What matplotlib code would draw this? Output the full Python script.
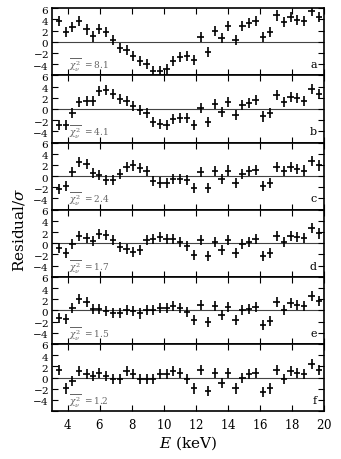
import matplotlib
matplotlib.use('Agg')
import matplotlib.pyplot as plt
import numpy as np

plt.rcParams['font.family'] = 'DejaVu Serif'
plt.rcParams['mathtext.fontset'] = 'dejavuserif'

# energy bins (keV)
energy = [3.46, 3.88, 4.29, 4.71, 5.17, 5.58, 5.96, 6.38, 6.83, 7.25,
          7.67, 8.08, 8.50, 8.92, 9.33, 9.75, 10.17, 10.58, 11.00, 11.46,
          11.88, 12.29, 12.77, 13.19, 13.60, 14.02, 14.48, 14.90, 15.31, 15.73,
          16.20, 16.63, 17.04, 17.50, 17.92, 18.33, 18.75, 19.23, 19.69]

res_a = [3.7, 1.7, 2.6, 3.7, 2.2, 0.95, 2.3, 1.7, 0.3, -1.15,
         -1.45, -2.5, -3.4, -4.0, -5.2, -5.2, -4.9, -3.4, -2.7, -2.6,
         -3.3, 0.8, -1.9, 2.0, 0.65, 2.9, 0.3, 2.8, 3.3, 3.7,
         0.9, 1.7, 4.7, 3.5, 4.5, 3.9, 3.7, 5.5, 4.4]
res_b = [-2.8, -2.8, -0.65, 1.3, 1.4, 1.5, 3.2, 3.35, 2.75, 1.7,
         1.5, 0.5, -0.2, -0.65, -2.4, -2.65, -2.9, -1.8, -1.6, -1.6,
         -2.8, 0.1, -2.4, 0.9, -0.5, 1.3, -1.05, 0.7, 1.1, 1.6,
         -1.35, -0.65, 2.5, 1.3, 2.2, 1.9, 1.5, 3.5, 2.65]
res_c = [-2.3, -1.85, 0.7, 2.6, 2.2, 0.55, 0.15, -0.75, -0.7, 0.3,
         1.7, 1.9, 1.45, 0.85, -0.85, -1.15, -1.25, -0.6, -0.6, -0.75,
         -2.1, 0.7, -2.2, 0.85, -0.6, 1.0, -1.3, 0.3, 0.85, 1.15,
         -1.7, -1.3, 1.7, 0.85, 1.6, 1.25, 1.0, 2.75, 1.9]
res_d = [-0.9, -1.75, -0.2, 1.35, 0.9, 0.45, 1.6, 1.5, 0.6, -0.7,
         -1.0, -1.5, -1.2, 0.6, 0.75, 1.05, 0.75, 0.75, 0.2, -0.5,
         -2.05, 0.6, -2.35, 0.2, -1.2, 0.6, -1.75, -0.2, 0.3, 0.75,
         -2.2, -1.75, 1.35, 0.3, 1.35, 1.05, 0.9, 2.8, 1.75]
res_e = [-1.35, -1.5, 0.5, 2.0, 1.5, 0.2, 0.2, -0.1, -0.4, -0.4,
         0.0, -0.1, -0.55, 0.0, 0.0, 0.35, 0.35, 0.8, 0.5, -0.25,
         -1.75, 1.0, -2.1, 0.8, -0.9, 0.65, -1.75, 0.0, 0.3, 0.65,
         -2.55, -1.95, 1.5, 0.05, 1.25, 1.0, 0.8, 2.6, 1.7]
res_f = [1.35, -1.95, -0.6, 1.2, 0.6, 0.3, 0.9, 0.3, -0.2, -0.2,
         1.2, 0.6, -0.3, -0.3, -0.3, 0.6, 0.6, 1.2, 0.75, -0.3,
         -1.95, 1.35, -2.35, 0.75, -0.9, 0.75, -1.95, 0.0, 0.6, 0.9,
         -2.5, -1.95, 1.35, -0.2, 1.2, 0.75, 0.6, 2.4, 1.35]

panels = [res_a, res_b, res_c, res_d, res_e, res_f]
letters = ['a', 'b', 'c', 'd', 'e', 'f']
chi2 = ['8.1', '4.1', '2.4', '1.7', '1.5', '1.2']

fig, axes = plt.subplots(6, 1, figsize=(3.41, 4.60), dpi=100, sharex=True)
fig.subplots_adjust(left=0.152, right=0.950, top=0.980, bottom=0.104, hspace=0)

for ax, res, let, chi in zip(axes, panels, letters, chi2):
    ax.axhline(0, color='#444444', lw=0.8, zorder=1)
    ax.errorbar(energy, res, xerr=0.2, yerr=0.9, fmt='none',
                ecolor='black', elinewidth=1.2, capsize=0, zorder=2)
    ax.set_xlim(3, 20)
    ax.set_ylim(-6, 6)
    ax.set_yticks([-6, -4, -2, 0, 2, 4, 6])
    ax.set_yticklabels(['', r'$-4$', r'$-2$', r'$0$', r'$2$', r'$4$', r'$6$'])
    ax.set_xticks([4, 6, 8, 10, 12, 14, 16, 18, 20])
    ax.tick_params(direction='in', top=True, right=True, length=4,
                   width=0.8, labelsize=7.5, pad=2)
    for s in ax.spines.values():
        s.set_linewidth(1.2)
    ax.text(4.1, -4.0, r'$\overline{\chi^2_\nu}$ $=$' + chi, color='#666666',
            fontsize=6.5, va='center', ha='left')
    ax.text(19.55, -4.0, let, fontsize=8, va='center', ha='right')

axes[-1].set_xticklabels([r'$%d$' % v for v in [4, 6, 8, 10, 12, 14, 16, 18, 20]])
axes[-1].tick_params(axis='x', labelsize=8.5, pad=4)
axes[-1].set_xlabel(r'$E$ (keV)', fontsize=11, labelpad=2)
fig.text(0.055, 0.50, r'Residual/$\sigma$', rotation=90, fontsize=11,
         va='center', ha='center')

fig.savefig('out.png', dpi=100)
